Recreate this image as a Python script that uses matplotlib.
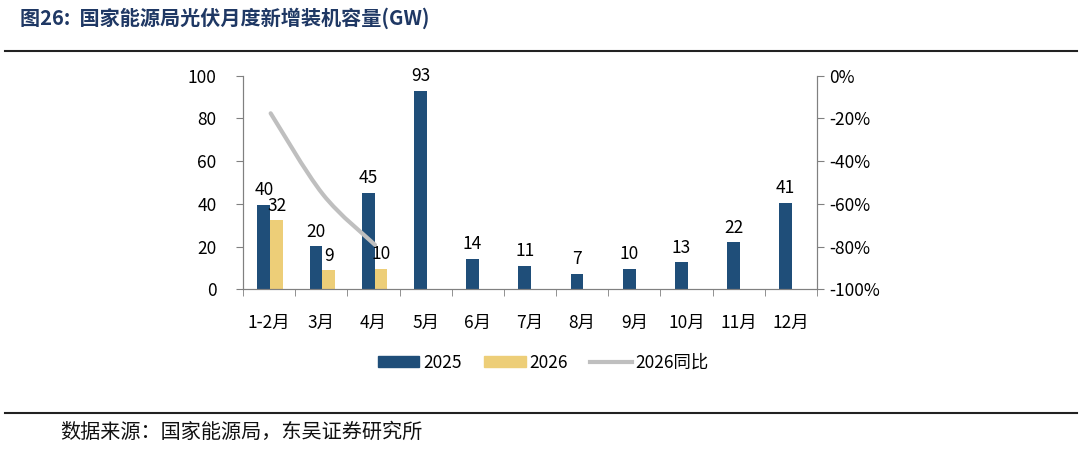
import matplotlib.pyplot as plt
import numpy as np
from matplotlib.path import Path
from matplotlib.patches import PathPatch, Patch
from matplotlib.lines import Line2D

plt.rcParams['font.family'] = ['Noto Sans CJK SC', 'DejaVu Sans']

# 数据
meses = ['1-2月', '3月', '4月', '5月', '6月', '7月', '8月', '9月', '10月', '11月', '12月']
v2025 = [39.7, 20.2, 45.2, 92.9, 14.4, 11.1, 7.3, 9.7, 12.6, 22.0, 40.6]
v2026 = [32.4, 8.9, 9.6]
yoy2026 = [-0.176, -0.555, -0.792]

c2025 = '#1F4E79'
c2026 = '#EDCE78'
cline = '#BFBFBF'
cspine = '#808080'

fig = plt.figure(figsize=(10.82, 4.57), dpi=100)
ax = fig.add_axes([243 / 1082, 1 - 289.3 / 457, 574 / 1082, 213.6 / 457])
ax2 = ax.twinx()

x = np.arange(len(meses))
w = 0.245
b1 = ax.bar(x - 0.1, v2025, w, color=c2025, zorder=2)
b2 = ax.bar(x[:len(v2026)] + 0.145, v2026, w, color=c2026, zorder=2)

# 数据标签
for xi, v in zip(x - 0.1, v2025):
    ax.annotate(f'{v:.0f}', (xi, v), xytext=(0, 4), textcoords='offset points',
                ha='center', va='bottom', fontsize=12.5)
for xi, v in zip(x[:len(v2026)] + 0.145, v2026):
    ax.annotate(f'{v:.0f}', (xi, v), xytext=(0, 4), textcoords='offset points',
                ha='center', va='bottom', fontsize=12.5)

# 平滑折线（贝塞尔曲线）
px = x[:len(yoy2026)] + 0.03
py = np.array(yoy2026)
pts = np.column_stack([px, py])
ext = np.vstack([pts[0], pts, pts[-1]])
verts = [tuple(pts[0])]
codes = [Path.MOVETO]
for i in range(len(pts) - 1):
    p0, p1, p2, p3 = ext[i], ext[i + 1], ext[i + 2], ext[i + 3]
    verts += [tuple(p1 + (p2 - p0) / 6), tuple(p2 - (p3 - p1) / 6), tuple(p2)]
    codes += [Path.CURVE4] * 3
ax2.add_patch(PathPatch(Path(verts, codes), fill=False, edgecolor=cline, lw=3,
                        capstyle='round', zorder=3))

ax.set_xlim(-0.5, len(meses) - 0.5)
ax.set_ylim(0, 100)
ax.set_yticks(range(0, 101, 20))
ax2.set_ylim(-1, 0)
ax2.set_yticks(np.linspace(-1, 0, 6))
ax2.set_yticklabels([f'{int(round(t * 100))}%' for t in np.linspace(-1, 0, 6)])

ax.set_xticks(x)
ax.set_xticklabels(meses)
ax.set_xticks(np.arange(-0.5, len(meses), 1), minor=True)
ax.tick_params(axis='x', which='major', length=0, pad=18, labelsize=12.5)
ax.tick_params(axis='x', which='minor', length=5, color=cspine)
ax.tick_params(axis='y', length=5, color=cspine, labelsize=12.5, pad=14)
ax2.tick_params(axis='y', length=5, color=cspine, labelsize=12.5, pad=4)

for a in (ax, ax2):
    a.spines['top'].set_visible(False)
    for s in ('left', 'right', 'bottom'):
        a.spines[s].set_color(cspine)
ax.set_zorder(ax2.get_zorder() - 1)
ax.patch.set_visible(False)

# 图例
handles = [Patch(color=c2025), Patch(color=c2026), Line2D([], [], color=cline, lw=3)]
fig.legend(handles, ['2025', '2026', '2026同比'], loc='center', bbox_to_anchor=(0.502, 1 - 363 / 457),
           ncol=3, frameon=False, fontsize=12.5, handlelength=2.4, handleheight=0.6,
           handletextpad=0.2, columnspacing=1.3)

# 标题、分割线、来源
fig.text(20 / 1082, 1 - 18 / 457, '图26:  国家能源局光伏月度新增装机容量(GW)', fontsize=14.5,
         fontweight='bold', color='#1F3864', va='center', ha='left')
fig.add_artist(Line2D([5 / 1082, 1077 / 1082], [1 - 51 / 457] * 2, color='#222222', lw=1.5))
fig.add_artist(Line2D([5 / 1082, 1077 / 1082], [1 - 412.5 / 457] * 2, color='#222222', lw=1.5))
fig.text(60 / 1082, 1 - 432 / 457, '数据来源：国家能源局，东吴证券研究所', fontsize=14.5,
         color='#111111', va='center', ha='left')

fig.savefig('out.png', dpi=100)
